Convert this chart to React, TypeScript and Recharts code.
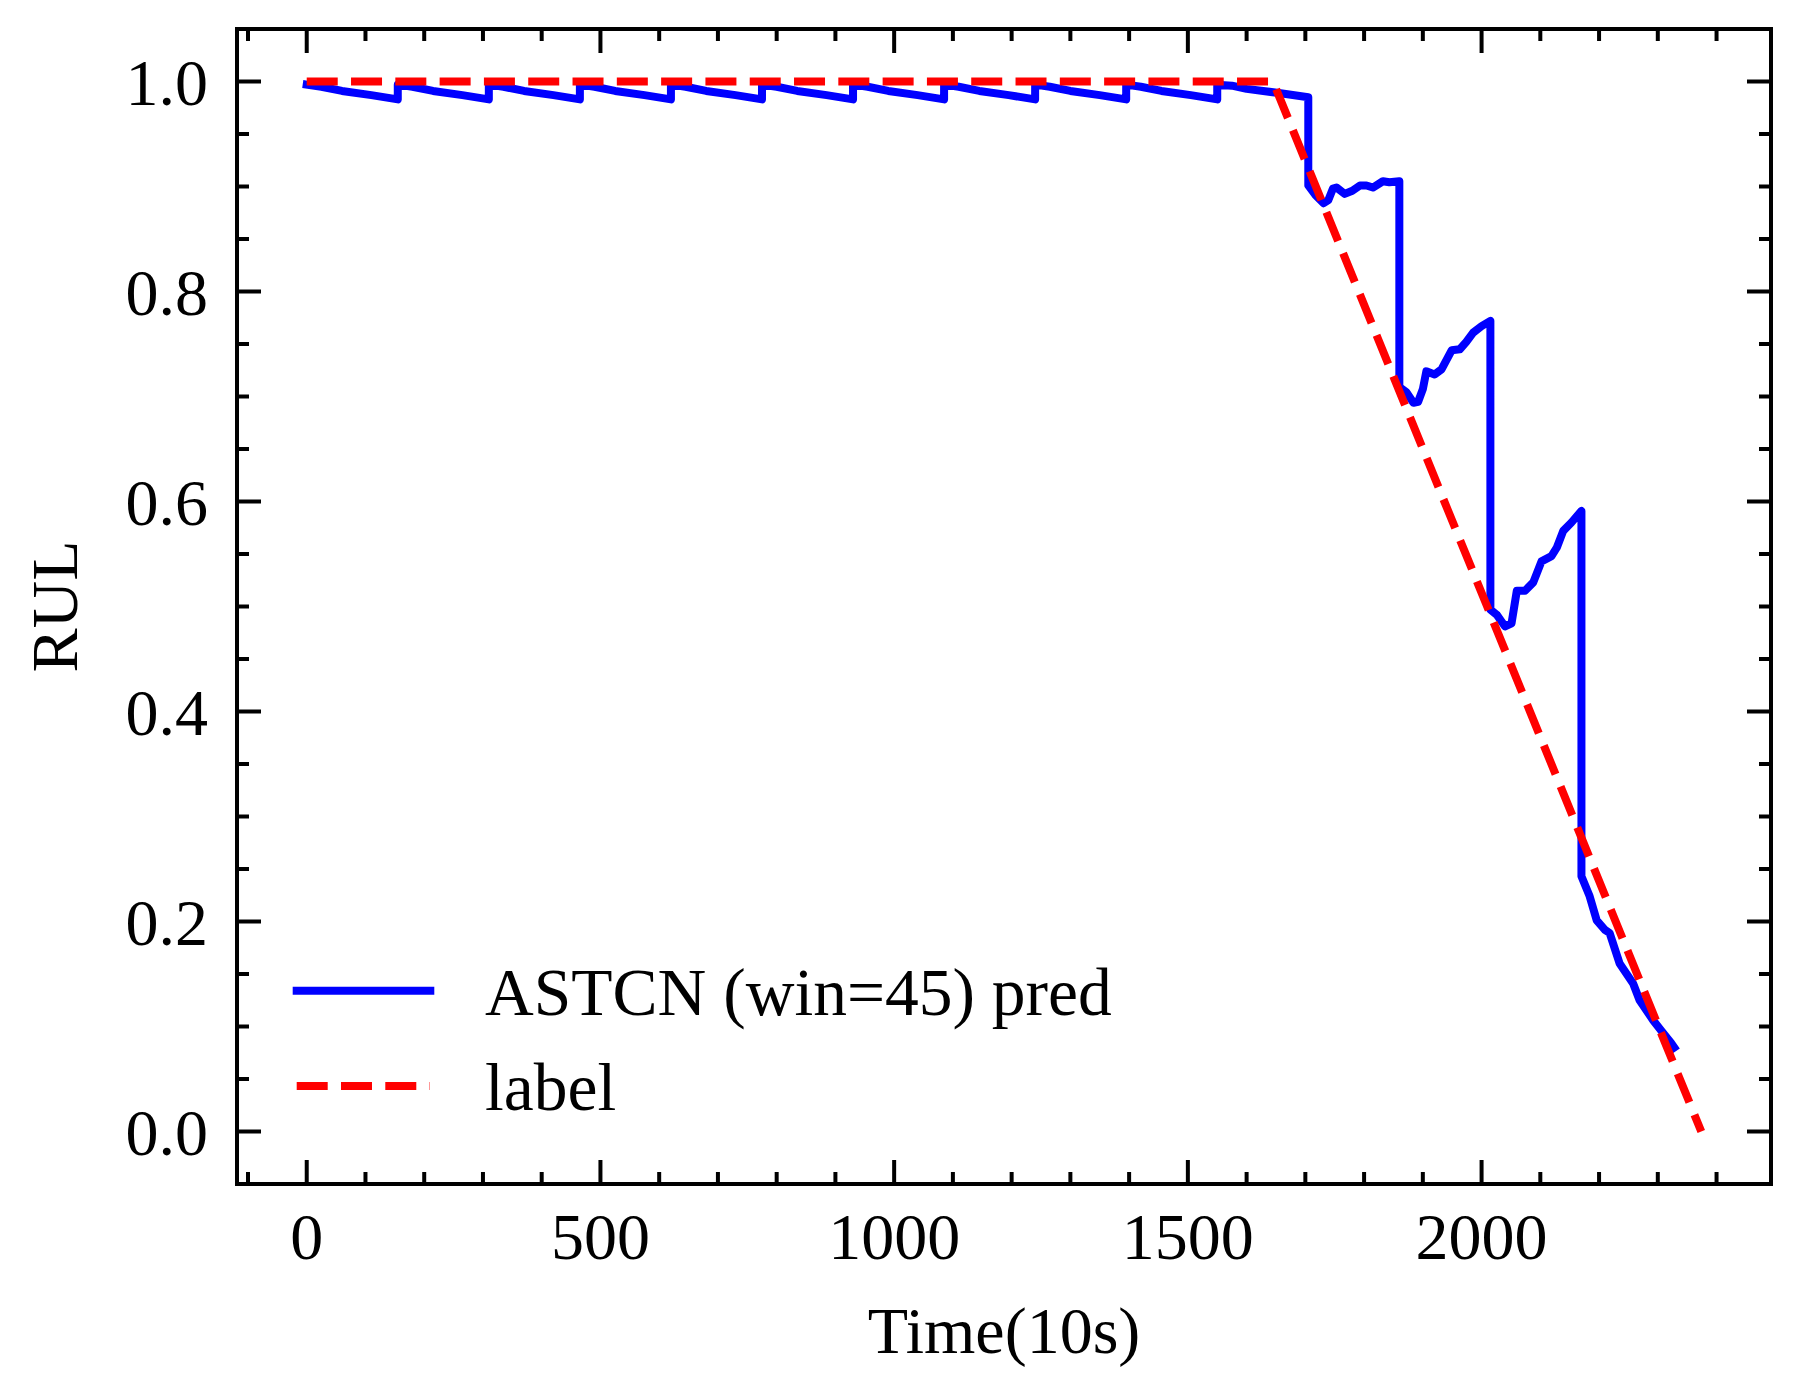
import { Label, Legend, Line, LineChart, XAxis, YAxis } from 'recharts';

const FONT = '"Liberation Serif", "Times New Roman", Times, serif';

// prediction of the model, time in units of 10 s
const predTime = [
  0, 25, 60, 110, 155,
  155, 180, 215, 265, 310,
  310, 335, 370, 420, 465,
  465, 490, 525, 575, 620,
  620, 645, 680, 730, 775,
  775, 800, 835, 885, 930,
  930, 955, 990, 1040, 1085,
  1085, 1110, 1145, 1195, 1240,
  1240, 1265, 1300, 1350, 1395,
  1395, 1420, 1455, 1505, 1550,
  1550, 1575, 1600, 1655, 1705,
  1705, 1717, 1731, 1739, 1747, 1753, 1767, 1780, 1793, 1804, 1815, 1832, 1843, 1860,
  1860, 1872, 1884, 1892, 1900, 1906, 1920, 1932, 1949, 1963, 1974, 1986, 2000, 2015,
  2015, 2026, 2040, 2051, 2060, 2074, 2088, 2102, 2119, 2128, 2139, 2153, 2170,
  2170, 2184, 2196, 2210, 2218, 2235, 2258, 2269, 2292, 2306, 2323, 2328,
];

const predRul = [
  0.997, 0.995, 0.991, 0.987, 0.983,
  0.997, 0.995, 0.991, 0.987, 0.983,
  0.997, 0.995, 0.991, 0.987, 0.983,
  0.997, 0.995, 0.991, 0.987, 0.983,
  0.997, 0.995, 0.991, 0.987, 0.983,
  0.997, 0.995, 0.991, 0.987, 0.983,
  0.997, 0.995, 0.991, 0.987, 0.983,
  0.997, 0.995, 0.991, 0.987, 0.983,
  0.997, 0.995, 0.991, 0.987, 0.983,
  0.997, 0.995, 0.991, 0.987, 0.983,
  0.997, 0.996, 0.993, 0.989, 0.985,
  0.901, 0.892, 0.884, 0.887, 0.898, 0.899, 0.893, 0.896, 0.901, 0.901, 0.899, 0.905, 0.904, 0.905,
  0.709, 0.704, 0.694, 0.695, 0.707, 0.724, 0.721, 0.726, 0.744, 0.745, 0.752, 0.761, 0.767, 0.772,
  0.497, 0.492, 0.481, 0.484, 0.515, 0.515, 0.523, 0.543, 0.548, 0.556, 0.572, 0.58, 0.591,
  0.243, 0.224, 0.201, 0.192, 0.189, 0.16, 0.141, 0.125, 0.106, 0.096, 0.084, 0.08,
];

// piecewise linear RUL label
const labelTime = [0, 1645, 2374];
const labelRul = [1, 1, 0];

const xTicks = [0, 500, 1000, 1500, 2000];
const xMinorTicks = [
  -100, 100, 200, 300, 400, 600, 700, 800, 900, 1100, 1200, 1300, 1400,
  1600, 1700, 1800, 1900, 2100, 2200, 2300, 2400,
];
const yTicks = [0, 0.2, 0.4, 0.6, 0.8, 1.0];
const yMinorTicks = [
  0.05, 0.1, 0.15, 0.25, 0.3, 0.35, 0.45, 0.5, 0.55, 0.65, 0.7, 0.75, 0.85, 0.9, 0.95,
];

const X_DOMAIN: [number, number] = [-118.7, 2492.7];
const Y_DOMAIN: [number, number] = [-0.05, 1.05];

const predData = predTime.map((t, i) => ({ t, rul: predRul[i] }));
const labelData = labelTime.map((t, i) => ({ t, rul: labelRul[i] }));

const spine = { stroke: '#000', strokeWidth: 4, strokeLinecap: 'square' as const };
const tickStroke = { stroke: '#000', strokeWidth: 4 };
const tickText = { fill: '#000', fontSize: 66, fontFamily: FONT };

// tick marks only, no text
const noLabel = () => <g />;

// mirrored axes take (almost) no room, so they do not push each other aside
const THIN = 0.01;

function LegendBox({ payload }: { payload?: any[] }) {
  const items = payload ?? [];
  return (
    <svg width={900} height={190} style={{ overflow: 'visible' }}>
      {items.map((item, i) => {
        const y = 50.7 + i * 95.3;
        const dashed = item.payload?.strokeDasharray;
        return (
          <g key={item.value}>
            <line
              x1={16.7}
              x2={dashed ? 150 : 150.3}
              y1={y}
              y2={y}
              stroke={item.color}
              strokeWidth={8}
              strokeDasharray={dashed}
              strokeLinecap={dashed ? 'butt' : 'square'}
            />
            <text x={205} y={y + 24} fontSize={67.5} fontFamily={FONT} fill="#000">
              {item.value}
            </text>
          </g>
        );
      })}
    </svg>
  );
}

function tickAxisX(id: string, ticks: number[], orientation: 'top' | 'bottom', size: number, frame: boolean) {
  return (
    <XAxis
      key={id}
      xAxisId={id}
      dataKey="t"
      type="number"
      domain={X_DOMAIN}
      allowDataOverflow
      ticks={ticks}
      interval={0}
      orientation={orientation}
      mirror
      height={THIN}
      tick={noLabel}
      tickSize={size}
      axisLine={frame ? spine : false}
      tickLine={tickStroke}
    />
  );
}

function tickAxisY(id: string, ticks: number[], orientation: 'left' | 'right', size: number, frame: boolean) {
  return (
    <YAxis
      key={id}
      yAxisId={id}
      type="number"
      domain={Y_DOMAIN}
      allowDataOverflow
      ticks={ticks}
      interval={0}
      orientation={orientation}
      mirror
      width={THIN}
      tick={noLabel}
      tickSize={size}
      axisLine={frame ? spine : false}
      tickLine={tickStroke}
    />
  );
}

export default function App() {
  return (
    <div style={{ position: 'absolute', left: 0, top: 0, width: 1801, height: 1399, background: '#fff' }}>
      <LineChart width={1801} height={1399} data={predData} margin={{ top: 29, right: 30, bottom: 0, left: 0 }}>
        <XAxis
          xAxisId="main"
          dataKey="t"
          type="number"
          domain={X_DOMAIN}
          allowDataOverflow
          ticks={xTicks}
          interval={0}
          height={215}
          tickLine={false}
          axisLine={false}
          tickSize={6}
          tickMargin={22}
          tick={tickText}
        >
          <Label value="Time(10s)" position="insideBottom" offset={46} fill="#000" style={{ fontSize: 66, fontFamily: FONT }} />
        </XAxis>
        <YAxis
          yAxisId="main"
          type="number"
          domain={Y_DOMAIN}
          allowDataOverflow
          ticks={yTicks}
          interval={0}
          width={237}
          tickLine={false}
          axisLine={false}
          tickSize={6}
          tickMargin={23}
          tickFormatter={(v: number) => v.toFixed(1)}
          tick={tickText}
        >
          <Label
            value="RUL"
            angle={-90}
            position="insideLeft"
            offset={54}
            fill="#000"
            style={{ fontSize: 66, fontFamily: FONT, textAnchor: 'middle' }}
          />
        </YAxis>

        {/* inward ticks and the frame on all four sides */}
        {tickAxisX('bMaj', xTicks, 'bottom', 24, true)}
        {tickAxisX('bMin', xMinorTicks, 'bottom', 12, false)}
        {tickAxisX('tMaj', xTicks, 'top', 24, true)}
        {tickAxisX('tMin', xMinorTicks, 'top', 12, false)}
        {tickAxisY('lMaj', yTicks, 'left', 24, true)}
        {tickAxisY('lMin', yMinorTicks, 'left', 12, false)}
        {tickAxisY('rMaj', yTicks, 'right', 24, true)}
        {tickAxisY('rMin', yMinorTicks, 'right', 12, false)}

        <Line
          xAxisId="main"
          yAxisId="main"
          data={predData}
          dataKey="rul"
          name="ASTCN (win=45) pred"
          type="linear"
          stroke="#0000ff"
          strokeWidth={8}
          strokeLinejoin="round"
          strokeLinecap="square"
          dot={false}
          activeDot={false}
          isAnimationActive={false}
        />
        <Line
          xAxisId="main"
          yAxisId="main"
          data={labelData}
          dataKey="rul"
          name="label"
          type="linear"
          stroke="#ff0000"
          strokeWidth={8}
          strokeDasharray="31 13.3"
          dot={false}
          activeDot={false}
          isAnimationActive={false}
        />
        <Legend
          layout="horizontal"
          verticalAlign="middle"
          align="center"
          wrapperStyle={{ left: 280, top: 940, width: 900, height: 190 }}
          content={(props: any) => <LegendBox payload={props.payload} />}
        />
      </LineChart>
    </div>
  );
}
